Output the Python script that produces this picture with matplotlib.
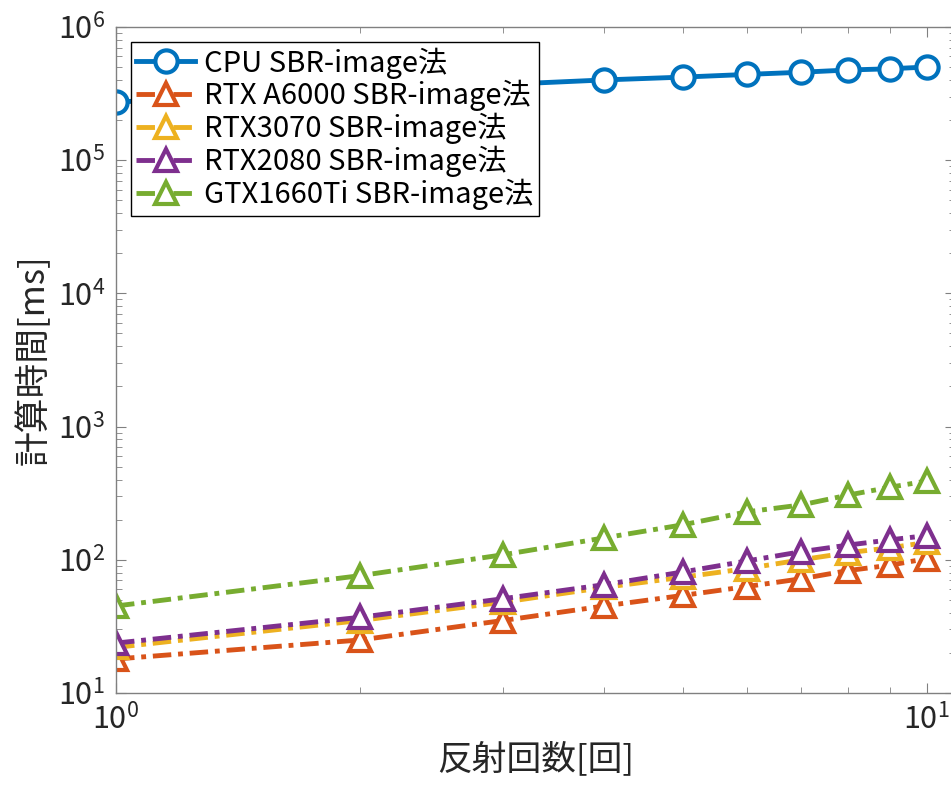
import numpy as np
import matplotlib
matplotlib.use('Agg')
import matplotlib.pyplot as plt
from matplotlib.ticker import LogLocator, NullFormatter

plt.rcParams['font.family'] = ['Noto Sans CJK JP', 'DejaVu Sans']

# reflection count
reflections = [1, 2, 3, 4, 5, 6, 7, 8, 9, 10]

# computation time [ms]
cpu_ms = [2.73e5, 3.3e5, 3.7e5, 4.0e5, 4.2e5, 4.4e5, 4.57e5, 4.75e5, 4.85e5, 5.0e5]
a6000_ms = [18, 25, 35, 45, 54, 63, 72, 83, 91, 102]
rtx3070_ms = [22, 35, 48, 62, 74, 86, 100, 113, 123, 135]
rtx2080_ms = [23.7, 37, 51, 65, 81, 98, 115, 129, 141, 152]
gtx1660_ms = [45, 76, 109, 146, 183, 229, 258, 306, 350, 390]

labels = ['CPU SBR-image法', 'RTX A6000 SBR-image法', 'RTX3070 SBR-image法',
          'RTX2080 SBR-image法', 'GTX1660Ti SBR-image法']

fig = plt.figure(figsize=(9.51, 7.92), dpi=100)
ax = fig.add_axes([0.122, 0.125, 0.882, 0.841])

lw = 3.5
ms = 16
mew = 3.0
ax.plot(reflections, cpu_ms, '-o', color='#0072BD', lw=lw, ms=ms, mew=mew,
        mfc='white', label=labels[0])
gpu_series = [a6000_ms, rtx3070_ms, rtx2080_ms, gtx1660_ms]
gpu_colors = ['#D95319', '#EDB120', '#7E2F8E', '#77AC30']
for vals, col, lab in zip(gpu_series, gpu_colors, labels[1:]):
    ax.plot(reflections, vals, '-.^', color=col, lw=lw, ms=ms, mew=mew,
            mfc='white', label=lab, dashes=(3.8, 1.4, 1.0, 1.4))

ax.set_xscale('log')
ax.set_yscale('log')
ax.set_xlim(1, 10.83)
ax.set_ylim(10, 1e6)

ax.yaxis.set_major_locator(LogLocator(base=10, numticks=10))
ax.yaxis.set_minor_locator(LogLocator(base=10, subs=np.arange(2, 10), numticks=20))
ax.yaxis.set_minor_formatter(NullFormatter())
ax.xaxis.set_minor_formatter(NullFormatter())

ax.tick_params(which='both', direction='in', top=True, right=True,
               color='#808080', labelcolor='#262626')
ax.tick_params(which='major', length=7, labelsize=22, pad=8)
ax.tick_params(which='minor', length=4)
for sp in ax.spines.values():
    sp.set_color('#808080')
    sp.set_linewidth(1.0)

ax.set_xlabel('反射回数[回]', fontsize=25, color='#262626')
ax.set_ylabel('計算時間[ms]', fontsize=25, color='#262626')

leg = ax.legend(loc='upper left', fontsize=21, frameon=True, fancybox=False,
                framealpha=1, edgecolor='black', handlelength=2.0,
                handletextpad=0.3, labelspacing=0.05, borderpad=0.2,
                borderaxespad=0.5)
leg.get_frame().set_linewidth(1.0)

fig.savefig('out.png', dpi=100)
